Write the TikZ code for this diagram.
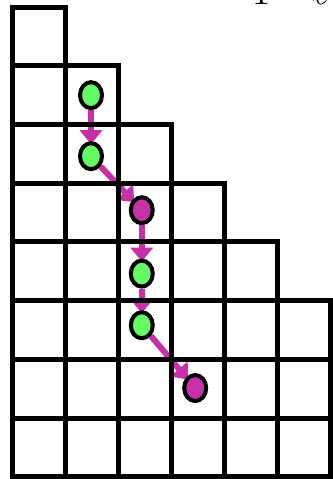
\documentclass[tikz,border=0pt]{standalone}
\usepackage{amsmath}
\usepackage{amssymb}
\usepackage{tikz}
\usetikzlibrary{shapes.geometric,arrows.meta,backgrounds}
\definecolor{pathmag}{RGB}{200,48,170}
\definecolor{dotgreen}{RGB}{100,250,100}

\begin{document}
\begin{tikzpicture}[x=26.45pt,y=29.35pt,
  cell/.style={draw=black,line width=2.5pt},
  dot/.style={ellipse,draw=black,line width=2pt,inner sep=0pt,
    minimum width=11pt,minimum height=13pt},
  greendot/.style={dot,fill=dotgreen},
  magdot/.style={dot,fill=pathmag},
  hop/.style={draw=pathmag,line width=3pt,
    -{Triangle[width=11pt,length=7pt]},shorten >=-1.5pt}]
\useasboundingbox (-6.35pt,-1.15pt) rectangle (160.15pt,238.35pt);
% The staircase of boxes, one row at a time from the bottom.
\foreach \r/\n in {1/6,2/6,3/6,4/5,5/4,6/3,7/2,8/1}{
  \foreach \c in {1,...,\n}{
    \draw[cell] (\c-1,\r-1) rectangle (\c,\r);
  }
}
% The marked boxes along the path.
\node[greendot] (g1) at (1.48,6.5) {};
\node[greendot] (g2) at (1.48,5.46) {};
\node[magdot] (m1) at (2.44,4.54) {};
\node[greendot] (g3) at (2.44,3.46) {};
\node[greendot] (g4) at (2.44,2.58) {};
\node[magdot] (m2) at (3.45,1.51) {};
\begin{scope}[on background layer]
\draw[hop] (g1) -- (g2);
\draw[hop] (g2) -- (m1);
\draw[hop] (m1) -- (g3);
\draw[hop] (g3) -- (g4);
\draw[hop] (g4) -- (m2);
\end{scope}
% Label above, cut by the frame.
\node[anchor=base,font=\fontsize{20}{24}\selectfont] (lt) at (124.65pt,236.35pt) {T};
\node[anchor=base,font=\fontsize{20}{24}\selectfont] (ll) at (154.15pt,236.35pt) {$\ell$};
\end{tikzpicture}
\end{document}
